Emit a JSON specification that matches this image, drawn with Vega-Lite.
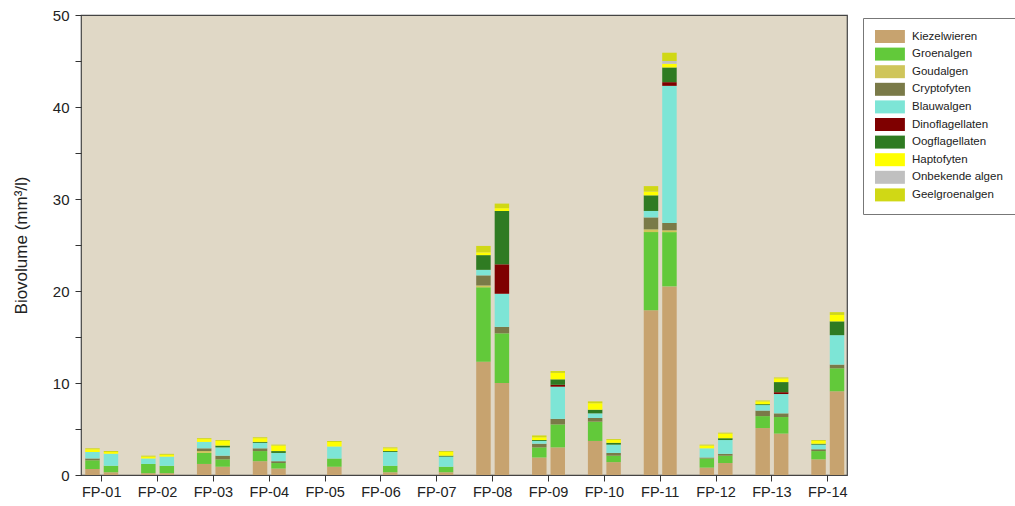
{
  "$schema": "https://vega.github.io/schema/vega-lite/v6.json",
  "width": 766,
  "height": 460,
  "autosize": {"type": "none"},
  "padding": {"left": 81, "top": 15, "right": 168, "bottom": 31},
  "background": "white",
  "config": {
    "font": "Liberation Sans",
    "view": {"fill": "#E0D8C6", "stroke": "#444444", "strokeWidth": 1.2}
  },
  "datasets": {
    "bars": [
      {"site": "FP-01", "s": "1", "Kiezelwieren": 0.65, "Groenalgen": 0.95, "Cryptofyten": 0.2, "Blauwalgen": 0.7, "Haptofyten": 0.3, "Geelgroenalgen": 0.1},
      {"site": "FP-01", "s": "2", "Kiezelwieren": 0.3, "Groenalgen": 0.7, "Blauwalgen": 1.3, "Haptofyten": 0.2, "Geelgroenalgen": 0.1},
      {"site": "FP-02", "s": "1", "Kiezelwieren": 0.2, "Groenalgen": 1.0, "Blauwalgen": 0.6, "Haptofyten": 0.2, "Geelgroenalgen": 0.1},
      {"site": "FP-02", "s": "2", "Kiezelwieren": 0.2, "Groenalgen": 0.8, "Blauwalgen": 1.0, "Haptofyten": 0.2, "Geelgroenalgen": 0.1},
      {"site": "FP-03", "s": "1", "Kiezelwieren": 1.2, "Groenalgen": 1.2, "Goudalgen": 0.2, "Cryptofyten": 0.3, "Blauwalgen": 0.7, "Haptofyten": 0.3, "Geelgroenalgen": 0.1},
      {"site": "FP-03", "s": "2", "Kiezelwieren": 0.9, "Groenalgen": 0.8, "Cryptofyten": 0.4, "Blauwalgen": 0.9, "Oogflagellaten": 0.2, "Haptofyten": 0.5, "Geelgroenalgen": 0.1},
      {"site": "FP-04", "s": "1", "Kiezelwieren": 1.5, "Groenalgen": 1.1, "Cryptofyten": 0.3, "Blauwalgen": 0.6, "Oogflagellaten": 0.1, "Haptofyten": 0.4, "Geelgroenalgen": 0.1},
      {"site": "FP-04", "s": "2", "Kiezelwieren": 0.7, "Groenalgen": 0.6, "Cryptofyten": 0.2, "Blauwalgen": 0.9, "Oogflagellaten": 0.2, "Haptofyten": 0.6, "Geelgroenalgen": 0.1},
      {"site": "FP-05", "s": "2", "Kiezelwieren": 0.9, "Groenalgen": 0.9, "Blauwalgen": 1.3, "Haptofyten": 0.5, "Geelgroenalgen": 0.1},
      {"site": "FP-06", "s": "2", "Kiezelwieren": 0.3, "Groenalgen": 0.7, "Blauwalgen": 1.5, "Oogflagellaten": 0.1, "Haptofyten": 0.3, "Geelgroenalgen": 0.1},
      {"site": "FP-07", "s": "2", "Kiezelwieren": 0.3, "Groenalgen": 0.6, "Blauwalgen": 1.1, "Oogflagellaten": 0.1, "Haptofyten": 0.4, "Geelgroenalgen": 0.1},
      {"site": "FP-08", "s": "1", "Kiezelwieren": 12.3, "Groenalgen": 8.1, "Goudalgen": 0.2, "Cryptofyten": 1.1, "Blauwalgen": 0.6, "Oogflagellaten": 1.6, "Haptofyten": 0.3, "Geelgroenalgen": 0.7},
      {"site": "FP-08", "s": "2", "Kiezelwieren": 10.0, "Groenalgen": 5.4, "Cryptofyten": 0.7, "Blauwalgen": 3.6, "Dinoflagellaten": 3.2, "Oogflagellaten": 5.8, "Haptofyten": 0.3, "Geelgroenalgen": 0.5},
      {"site": "FP-09", "s": "1", "Kiezelwieren": 1.9, "Groenalgen": 1.1, "Cryptofyten": 0.4, "Blauwalgen": 0.3, "Oogflagellaten": 0.1, "Haptofyten": 0.3, "Geelgroenalgen": 0.2},
      {"site": "FP-09", "s": "2", "Kiezelwieren": 3.0, "Groenalgen": 2.5, "Cryptofyten": 0.6, "Blauwalgen": 3.5, "Dinoflagellaten": 0.2, "Oogflagellaten": 0.6, "Haptofyten": 0.7, "Geelgroenalgen": 0.2},
      {"site": "FP-10", "s": "1", "Kiezelwieren": 3.7, "Groenalgen": 2.1, "Cryptofyten": 0.4, "Blauwalgen": 0.5, "Oogflagellaten": 0.4, "Haptofyten": 0.7, "Geelgroenalgen": 0.2},
      {"site": "FP-10", "s": "2", "Kiezelwieren": 1.4, "Groenalgen": 0.7, "Cryptofyten": 0.3, "Blauwalgen": 0.9, "Oogflagellaten": 0.2, "Haptofyten": 0.3, "Geelgroenalgen": 0.1},
      {"site": "FP-11", "s": "1", "Kiezelwieren": 17.9, "Groenalgen": 8.5, "Goudalgen": 0.3, "Cryptofyten": 1.3, "Blauwalgen": 0.7, "Oogflagellaten": 1.7, "Haptofyten": 0.4, "Geelgroenalgen": 0.6},
      {"site": "FP-11", "s": "2", "Kiezelwieren": 20.5, "Groenalgen": 5.9, "Goudalgen": 0.2, "Cryptofyten": 0.8, "Blauwalgen": 14.9, "Dinoflagellaten": 0.4, "Oogflagellaten": 1.6, "Haptofyten": 0.4, "Onbekende algen": 0.3, "Geelgroenalgen": 0.9},
      {"site": "FP-12", "s": "1", "Kiezelwieren": 0.8, "Groenalgen": 1.0, "Cryptofyten": 0.1, "Blauwalgen": 1.0, "Haptofyten": 0.3, "Geelgroenalgen": 0.1},
      {"site": "FP-12", "s": "2", "Kiezelwieren": 1.3, "Groenalgen": 0.8, "Cryptofyten": 0.2, "Blauwalgen": 1.5, "Oogflagellaten": 0.2, "Haptofyten": 0.5, "Geelgroenalgen": 0.1},
      {"site": "FP-13", "s": "1", "Kiezelwieren": 5.1, "Groenalgen": 1.3, "Cryptofyten": 0.6, "Blauwalgen": 0.6, "Oogflagellaten": 0.1, "Haptofyten": 0.3, "Geelgroenalgen": 0.1},
      {"site": "FP-13", "s": "2", "Kiezelwieren": 4.5, "Groenalgen": 1.8, "Cryptofyten": 0.4, "Blauwalgen": 2.1, "Dinoflagellaten": 0.2, "Oogflagellaten": 1.1, "Haptofyten": 0.4, "Geelgroenalgen": 0.1},
      {"site": "FP-14", "s": "1", "Kiezelwieren": 1.7, "Groenalgen": 0.9, "Cryptofyten": 0.2, "Blauwalgen": 0.5, "Oogflagellaten": 0.1, "Haptofyten": 0.3, "Geelgroenalgen": 0.1},
      {"site": "FP-14", "s": "2", "Kiezelwieren": 9.1, "Groenalgen": 2.5, "Cryptofyten": 0.4, "Blauwalgen": 3.2, "Oogflagellaten": 1.5, "Haptofyten": 0.7, "Geelgroenalgen": 0.3}
    ],
    "groups": [
      {"g": "Kiezelwieren", "ord": 1},
      {"g": "Groenalgen", "ord": 2},
      {"g": "Goudalgen", "ord": 3},
      {"g": "Cryptofyten", "ord": 4},
      {"g": "Blauwalgen", "ord": 5},
      {"g": "Dinoflagellaten", "ord": 6},
      {"g": "Oogflagellaten", "ord": 7},
      {"g": "Haptofyten", "ord": 8},
      {"g": "Onbekende algen", "ord": 9},
      {"g": "Geelgroenalgen", "ord": 10}
    ]
  },
  "data": {"name": "bars"},
  "transform": [
    {"fold": ["Kiezelwieren", "Groenalgen", "Goudalgen", "Cryptofyten", "Blauwalgen", "Dinoflagellaten", "Oogflagellaten", "Haptofyten", "Onbekende algen", "Geelgroenalgen"], "as": ["g", "v"]},
    {"filter": "datum.v > 0"},
    {"lookup": "g", "from": {"data": {"name": "groups"}, "key": "g", "fields": ["ord"]}}
  ],
  "mark": {"type": "bar"},
  "encoding": {
    "x": {
      "field": "site",
      "type": "nominal",
      "scale": {"range": [-7.2, 774.7], "paddingInner": 0.41, "paddingOuter": 0.205},
      "axis": {"title": null, "labelAngle": 0, "labelFontSize": 14.5, "labelColor": "#222", "labelPadding": 4, "tickSize": 6, "tickColor": "#333", "domain": false}
    },
    "xOffset": {
      "field": "s",
      "type": "nominal",
      "scale": {"domain": ["1", "2"], "paddingInner": 0.216, "paddingOuter": 0}
    },
    "y": {
      "field": "v",
      "type": "quantitative",
      "stack": "zero",
      "scale": {"domain": [0, 50], "nice": false},
      "axis": {
        "title": "Biovolume (mm³/l)",
        "titleFontSize": 17,
        "titleFontWeight": "normal",
        "titleColor": "#222",
        "titlePadding": 22,
        "values": [0, 5, 10, 15, 20, 25, 30, 35, 40, 45, 50],
        "labelExpr": "datum.value % 10 === 0 ? datum.label : ''",
        "labelFontSize": 15,
        "labelColor": "#222",
        "labelPadding": 6,
        "tickSize": 6,
        "tickColor": "#333",
        "grid": false,
        "domain": false
      }
    },
    "color": {
      "field": "g",
      "type": "nominal",
      "scale": {
        "domain": ["Kiezelwieren", "Groenalgen", "Goudalgen", "Cryptofyten", "Blauwalgen", "Dinoflagellaten", "Oogflagellaten", "Haptofyten", "Onbekende algen", "Geelgroenalgen"],
        "range": ["#C7A36F", "#62C93A", "#CFC55A", "#7A7A48", "#7DE5D6", "#7F0000", "#2F7B22", "#FFFF00", "#C0C0C0", "#D0D815"]
      },
      "legend": {
        "title": null,
        "orient": "none",
        "legendX": 782,
        "legendY": 3,
        "fillColor": "white",
        "strokeColor": "#777777",
        "padding": 12,
        "symbolType": "M-1,-1H3.6V1H-1Z",
        "symbolSize": 169,
        "symbolStrokeWidth": 0,
        "symbolOpacity": 1,
        "labelOffset": 24,
        "labelFontSize": 11.5,
        "labelColor": "#222",
        "rowPadding": 4.6
      }
    },
    "order": {"field": "ord", "type": "quantitative"}
  }
}
